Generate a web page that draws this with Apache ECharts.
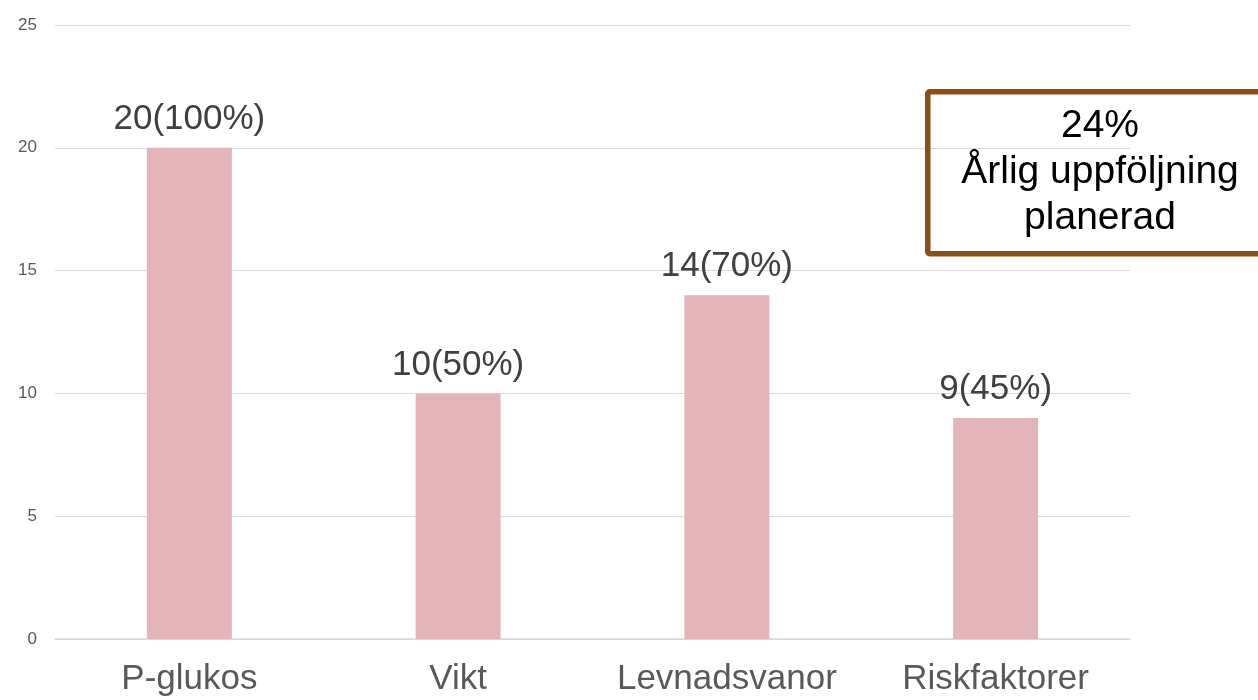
<!DOCTYPE html>
<html>
<head>
<meta charset="utf-8">
<script src="https://cdn.jsdelivr.net/npm/echarts@6/dist/echarts.min.js"></script>
<style>html,body{margin:0;padding:0;background:#fff}#c{width:1258px;height:700px}</style>
</head>
<body>
<div id="c"></div>
<script>
var categories = ['P-glukos', 'Vikt', 'Levnadsvanor', 'Riskfaktorer'];
var counts = [20, 10, 14, 9];
var percents = [100, 50, 70, 45];
var yTicks = [0, 5, 10, 15, 20, 25];
var boxLines = ['24%', 'Årlig uppföljning', 'planerad'];

var chart = echarts.init(document.getElementById('c'));
chart.setOption({
  animation: false,
  backgroundColor: '#fff',
  grid: { left: 55, right: 128, top: 25, bottom: 61, containLabel: false },
  xAxis: {
    type: 'category',
    data: categories,
    axisLine: { show: true, lineStyle: { color: '#d9d9d9', width: 1.5 } },
    axisTick: { show: false },
    axisLabel: { interval: 0, hideOverlap: false, color: '#595959', fontSize: 35, fontFamily: 'Liberation Sans, Arial, sans-serif', margin: 23 }
  },
  yAxis: {
    type: 'value',
    min: yTicks[0],
    max: yTicks[yTicks.length - 1],
    interval: 5,
    axisLine: { show: false },
    axisTick: { show: false },
    splitLine: { lineStyle: { color: '#d9d9d9', width: 1.2 } },
    axisLabel: { color: '#595959', fontSize: 17, fontFamily: 'Liberation Sans, Arial, sans-serif', margin: 18, align: 'right' }
  },
  series: [{
    type: 'bar',
    data: counts,
    barWidth: 85,
    itemStyle: { color: '#e3b5ba' },
    label: {
      show: true,
      position: 'top',
      distance: 11,
      color: '#404040',
      fontSize: 35,
      fontFamily: 'Liberation Sans, Arial, sans-serif',
      formatter: function (p) { return counts[p.dataIndex] + '(' + percents[p.dataIndex] + '%)'; }
    }
  }],
  graphic: [
    {
      type: 'rect',
      left: 925, top: 89,
      shape: { width: 345, height: 162, r: 2 },
      style: { fill: 'none', stroke: '#8b4f14', lineWidth: 5.5 },
      z: 100
    },
    {
      type: 'text',
      x: 1100, y: 172,
      style: {
        text: boxLines.join('\n'),
        fill: '#000',
        fontSize: 39,
        lineHeight: 46,
        fontFamily: 'Liberation Sans, Arial, sans-serif',
        textAlign: 'center',
        textVerticalAlign: 'middle'
      },
      z: 101
    }
  ]
});
</script>
</body>
</html>
